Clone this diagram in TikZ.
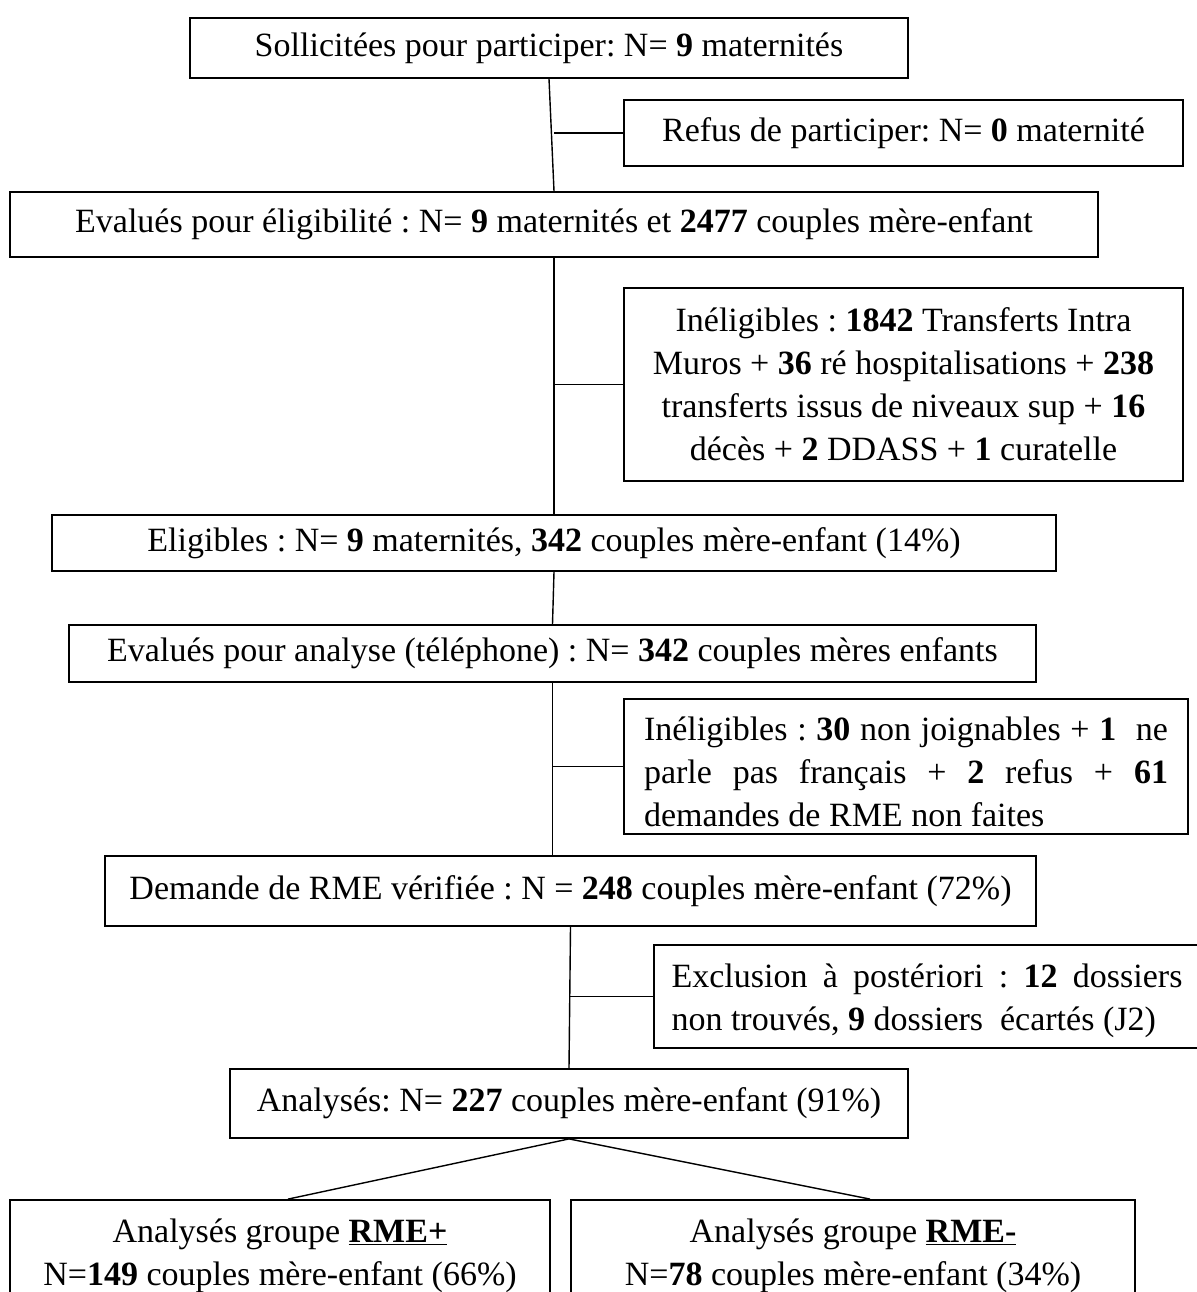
\documentclass[tikz,border=0pt]{standalone}
\usepackage{fontspec}
\setmainfont{Liberation Serif}
\usetikzlibrary{positioning,calc}

\frenchspacing
\newcommand{\justbox}[4]{\parbox[c][#2][c]{#1}{\spaceskip=0.25em plus 1em minus 0.1em\relax
  \vspace*{#3}#4}}

\begin{document}
\begin{tikzpicture}
  [x=1pt,y=-1pt,
   boxN/.style={rectangle,draw,line width=1.8pt,inner sep=0pt,
     font=\fontsize{34}{43}\selectfont,align=center},
   linkN/.style={line width=1.4pt}]

  \useasboundingbox (0,0) rectangle (1196,1292);

  \node[boxN,minimum width=718pt,minimum height=60pt] (solli) at (549,48)
    {Sollicitées pour participer: N= \textbf{9} maternités};

  \node[boxN,minimum width=559pt,minimum height=66pt] (refus) at (903.5,133)
    {Refus de participer: N= \textbf{0} maternité};

  \node[boxN,minimum width=1088pt,minimum height=65pt] (evalelig) at (554,224.5)
    {Evalués pour éligibilité : N= \textbf{9} maternités et \textbf{2477} couples mère-enfant};

  \node[boxN,minimum width=559pt,minimum height=193pt] (inel1) at (903.5,384.5)
    {Inéligibles : \textbf{1842} Transferts Intra\\
     Muros + \textbf{36} ré hospitalisations + \textbf{238}\\
     transferts issus de niveaux sup + \textbf{16}\\
     décès + \textbf{2} DDASS + \textbf{1} curatelle};

  \node[boxN,minimum width=1004pt,minimum height=56pt] (elig) at (554,543)
    {Eligibles : N= \textbf{9} maternités, \textbf{342} couples mère-enfant (14\%)};

  \node[boxN,minimum width=967pt,minimum height=57pt] (evalanal) at (552.5,653.5)
    {Evalués pour analyse (téléphone) : N= \textbf{342} couples mères enfants};

  \node[boxN,minimum width=564pt] (inel2) at (906,766.5)
    {\justbox{524pt}{135pt}{10pt}{Inéligibles : \textbf{30} non joignables + \textbf{1}\ \ ne\linebreak
     parle pas français + \textbf{2} refus + \textbf{61}\linebreak
     demandes de RME non faites}};

  \node[boxN,minimum width=931pt,minimum height=70pt] (demande) at (570.5,891)
    {Demande de RME vérifiée : N = \textbf{248} couples mère-enfant (72\%)};

  \node[boxN,minimum width=546pt] (exclu) at (927,996.5)
    {\justbox{511pt}{103pt}{8pt}{Exclusion à postériori : \textbf{12} dossiers\linebreak
     non trouvés, \textbf{9} dossiers\ \ écartés (J2)}};

  \node[boxN,minimum width=678pt,minimum height=69pt] (analy) at (569,1103.5)
    {Analysés: N= \textbf{227} couples mère-enfant (91\%)};

  \node[boxN,minimum width=540pt,minimum height=112pt] (rmeplus) at (280,1256)
    {Analysés groupe \underline{\textbf{RME+}}\\
     N=\textbf{149} couples mère-enfant (66\%)};

  \node[boxN,minimum width=564pt,minimum height=112pt] (rmemoins) at (853,1256)
    {Analysés groupe \underline{\textbf{RME-}}\\
     N=\textbf{78} couples mère-enfant (34\%)};

  \coordinate (j1) at (refus.west -| evalelig.north);
  \coordinate (j2) at (inel1.west -| evalelig.south);
  \coordinate (j3) at (inel2.west -| evalanal.south);
  \coordinate (j4) at (exclu.west -| analy.north);

  \draw[linkN] (solli.south) -- (evalelig.north);
  \draw[linkN] (refus.west) -- (j1);
  \draw[linkN] (evalelig.south) -- (elig.north);
  \draw[linkN] (inel1.west) -- (j2);
  \draw[linkN] (elig.south) -- (evalanal.north);
  \draw[linkN] (evalanal.south) -- (evalanal.south |- demande.north);
  \draw[linkN] (inel2.west) -- (j3);
  \draw[linkN] (demande.south) -- (analy.north);
  \draw[linkN] (exclu.west) -- (j4);
  \draw[linkN] (analy.south) -- ([xshift=8pt]rmeplus.north);
  \draw[linkN] (analy.south) -- ([xshift=17pt]rmemoins.north);

\end{tikzpicture}
\end{document}
